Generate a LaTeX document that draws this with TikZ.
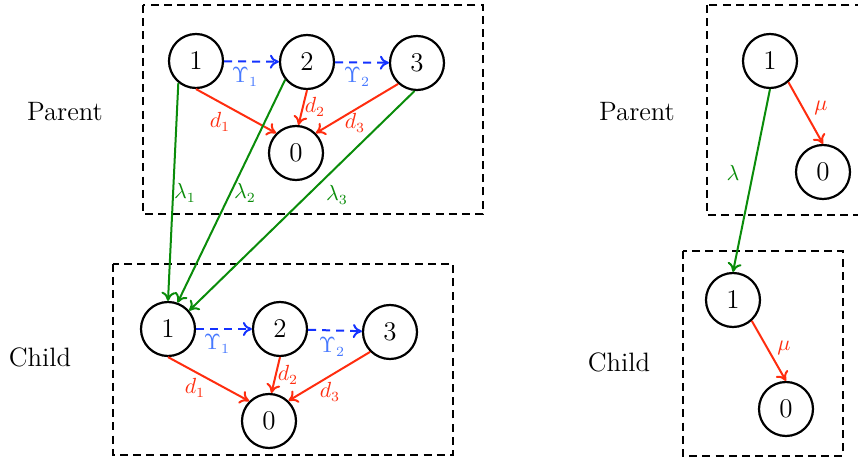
\documentclass[tikz,border=0pt]{standalone}
\usetikzlibrary{arrows.meta}
\definecolor{trans}{RGB}{20,50,255}
\definecolor{translbl}{RGB}{70,120,255}
\definecolor{death}{RGB}{255,45,15}
\definecolor{birth}{RGB}{10,140,10}
\tikzset{
  state/.style={circle,draw,line width=1.1pt,minimum size=27pt,inner sep=0pt,
    font=\fontsize{13.5}{15}\selectfont},
  group/.style={draw,dashed,line width=1pt,dash pattern=on 4pt off 2.6pt},
  move/.style={-{To[length=4.5pt,width=7pt]},line width=1pt},
  jump/.style={move,trans,dashed,dash pattern=on 4pt off 3pt},
  die/.style={move,death},
  born/.style={move,birth},
  lbl/.style={inner sep=1pt,font=\fontsize{10.5}{12}\selectfont},
  tag/.style={font=\fontsize{13.3}{15}\selectfont}
}
\begin{document}
\begin{tikzpicture}[x=0.5pt,y=-0.5pt]
\clip (0,0) rectangle (858,460);

% ---- multi-state model: parent generation ----
\draw[group] (143,5) rectangle (483,214);
\node[tag] (tP) at (65,112) {Parent};
\node[state] (p1) at (196,61) {1};
\node[state] (p2) at (307,62) {2};
\node[state] (p3) at (417,63) {3};
\node[state] (p0) at (296,153) {0};

% ---- multi-state model: child generation ----
\draw[group] (113,264) rectangle (453,455);
\node[tag] (tC) at (40,357) {Child};
\node[state] (c1) at (168,329) {1};
\node[state] (c2) at (280,329) {2};
\node[state] (c3) at (390,332) {3};
\node[state] (c0) at (269,421) {0};

% transitions between states
\draw[jump] (p1) -- (p2);
\draw[jump] (p2) -- (p3);
\draw[jump] (c1) -- (c2);
\draw[jump] (c2) -- (c3);
\node[lbl,text=translbl] (lu1) at (245,77) {$\Upsilon_1$};
\node[lbl,text=translbl] (lu2) at (357,77) {$\Upsilon_2$};
\node[lbl,text=translbl] (lv1) at (217,344) {$\Upsilon_1$};
\node[lbl,text=translbl] (lv2) at (332,347) {$\Upsilon_2$};

% deaths
\draw[die] (p1.south) -- (p0.135);
\draw[die] (p2.south) -- (p0.85);
\draw[die] (p3.228) -- (p0.45);
\draw[die] (c1.south) -- (c0.135);
\draw[die] (c2.south) -- (c0.85);
\draw[die] (c3.225) -- (c0.46);
\node[lbl,text=death] (ld1) at (220,122) {$d_1$};
\node[lbl,text=death] (ld2) at (315,107) {$d_2$};
\node[lbl,text=death] (ld3) at (355,123) {$d_3$};
\node[lbl,text=death] (le1) at (195,388) {$d_1$};
\node[lbl,text=death] (le2) at (288,375) {$d_2$};
\node[lbl,text=death] (le3) at (330,392) {$d_3$};

% births into the child generation
\draw[born] (p1.231) -- (c1.north);
\draw[born] (p2.219) -- (c1.70);
\draw[born] (p3.265) -- (c1.41);
\node[lbl,text=birth] (lb1) at (185,193) {$\lambda_1$};
\node[lbl,text=birth] (lb2) at (245,193) {$\lambda_2$};
\node[lbl,text=birth] (lb3) at (337,195) {$\lambda_3$};

% ---- single-state model ----
\draw[group] (707,5) rectangle (885,215);
\node[tag] (sP) at (637,112) {Parent};
\node[state] (q1) at (770,61) {1};
\node[state] (q0) at (823,172) {0};

\draw[group] (683,251) rectangle (843,456);
\node[tag] (sC) at (619,362) {Child};
\node[state] (r1) at (733,300) {1};
\node[state] (r0) at (786,409) {0};

\draw[die] (q1.311) -- (q0.north);
\draw[die] (r1.312) -- (r0.north);
\draw[born] (q1.south) -- (r1.north);
\node[lbl,text=death] (lm1) at (821,108) {$\mu$};
\node[lbl,text=death] (lm2) at (784,348) {$\mu$};
\node[lbl,text=birth] (ll) at (733,173) {$\lambda$};
\end{tikzpicture}
\end{document}
